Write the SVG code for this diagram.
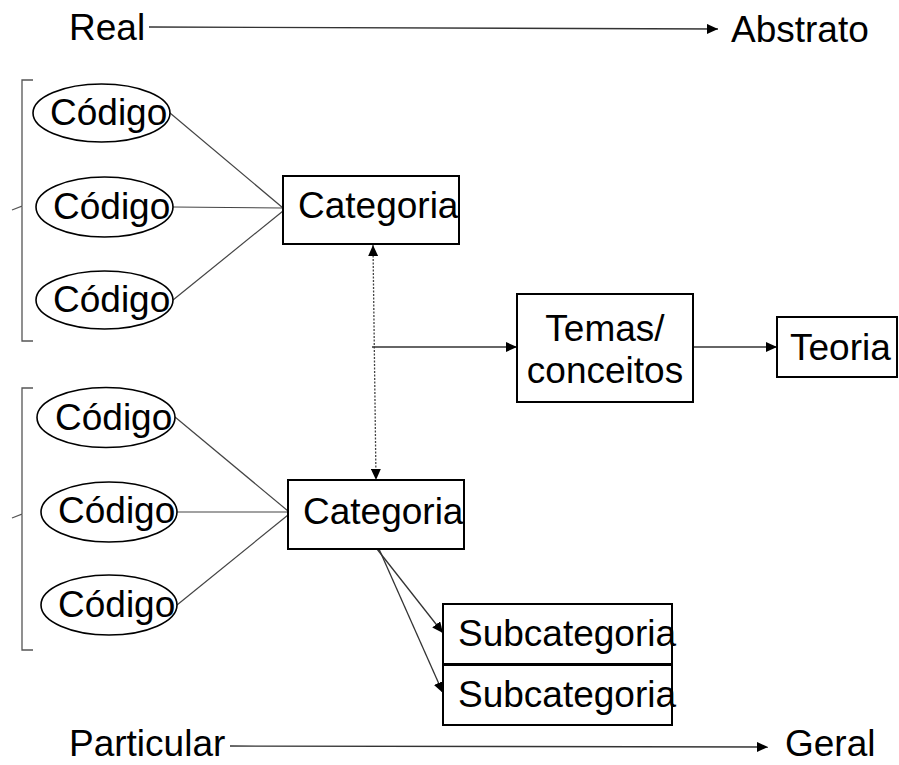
<svg xmlns="http://www.w3.org/2000/svg" width="899" height="765" viewBox="0 0 899 765">
<style>
text{font-family:"Liberation Sans",Arial,sans-serif;font-size:37px;fill:#000}
.box{fill:#fff;stroke:#000;stroke-width:2}
.ell{fill:#fff;stroke:#000;stroke-width:1.6}
.ln{stroke:#444;stroke-width:1.2;fill:none}
.ar{stroke:#333;stroke-width:1.3;fill:none;marker-end:url(#ah)}
.br{stroke:#555;stroke-width:1.3;fill:none}
</style>
<defs>
<marker id="ah" markerUnits="userSpaceOnUse" markerWidth="12" markerHeight="10" refX="11" refY="5" orient="auto-start-reverse"><path d="M0,0 L11,5 L0,10 z" fill="#000"/></marker>
</defs>
<rect width="899" height="765" fill="#fff"/>
<g id="axes">
<text x="69" y="40">Real</text>
<text x="731" y="42">Abstrato</text>
<text x="69" y="756">Particular</text>
<text x="785" y="756">Geral</text>
</g>
<g id="connectors">
<line class="ar" x1="149" y1="27" x2="718" y2="29"/>
<line class="ar" x1="230" y1="746" x2="768" y2="747"/>
<line class="ln" x1="170" y1="113" x2="283" y2="208"/>
<line class="ln" x1="173" y1="207" x2="283" y2="208"/>
<line class="ln" x1="173" y1="300" x2="283" y2="211"/>
<line class="ln" x1="175" y1="417" x2="288" y2="511"/>
<line class="ln" x1="177" y1="512" x2="288" y2="512"/>
<line class="ln" x1="177" y1="605" x2="288" y2="515"/>
<line x1="373" y1="245" x2="376" y2="480" stroke="#444" stroke-width="1.3" stroke-dasharray="2,1.5" marker-start="url(#ah)" marker-end="url(#ah)"/>
<line class="ar" x1="372" y1="347" x2="517" y2="347"/>
<line class="ar" x1="693" y1="347" x2="777" y2="347"/>
<line class="ar" x1="377" y1="549" x2="443" y2="633"/>
<line class="ar" x1="379" y1="549" x2="443" y2="693"/>
</g>
<g id="bracket1"><path class="br" d="M33,80 H22 V206 L12,210 M22,214 V341 H33 M22,206 V214"/></g>
<g id="bracket2"><path class="br" d="M33,388 H22 V514 L12,518 M22,522 V650 H33 M22,514 V522"/></g>
<g id="codigo1"><ellipse class="ell" cx="101.5" cy="113" rx="68.5" ry="29"/><text x="50" y="125">Código</text></g>
<g id="codigo2"><ellipse class="ell" cx="104.5" cy="207" rx="68.5" ry="30"/><text x="53" y="219">Código</text></g>
<g id="codigo3"><ellipse class="ell" cx="104.5" cy="300" rx="68.5" ry="29"/><text x="53" y="312">Código</text></g>
<g id="codigo4"><ellipse class="ell" cx="106" cy="417.5" rx="69" ry="30"/><text x="55" y="430">Código</text></g>
<g id="codigo5"><ellipse class="ell" cx="109" cy="512" rx="68" ry="30"/><text x="58" y="523">Código</text></g>
<g id="codigo6"><ellipse class="ell" cx="109" cy="605" rx="68" ry="30"/><text x="58" y="617">Código</text></g>
<g id="categoria1"><rect class="box" x="283" y="176" width="176" height="68"/><text x="298" y="218">Categoria</text></g>
<g id="categoria2"><rect class="box" x="288" y="480" width="176" height="69"/><text x="303" y="524">Categoria</text></g>
<g id="temas"><rect class="box" x="517" y="294" width="176" height="108"/><text x="605" y="341" text-anchor="middle">Temas/</text><text x="605" y="383" text-anchor="middle">conceitos</text></g>
<g id="teoria"><rect class="box" x="777" y="317" width="120" height="60"/><text x="790" y="360">Teoria</text></g>
<g id="subcategoria1"><rect class="box" x="443" y="604" width="229" height="60"/><text x="458" y="646">Subcategoria</text></g>
<g id="subcategoria2"><rect class="box" x="443" y="665" width="229" height="60"/><text x="458" y="707">Subcategoria</text></g>
</svg>
